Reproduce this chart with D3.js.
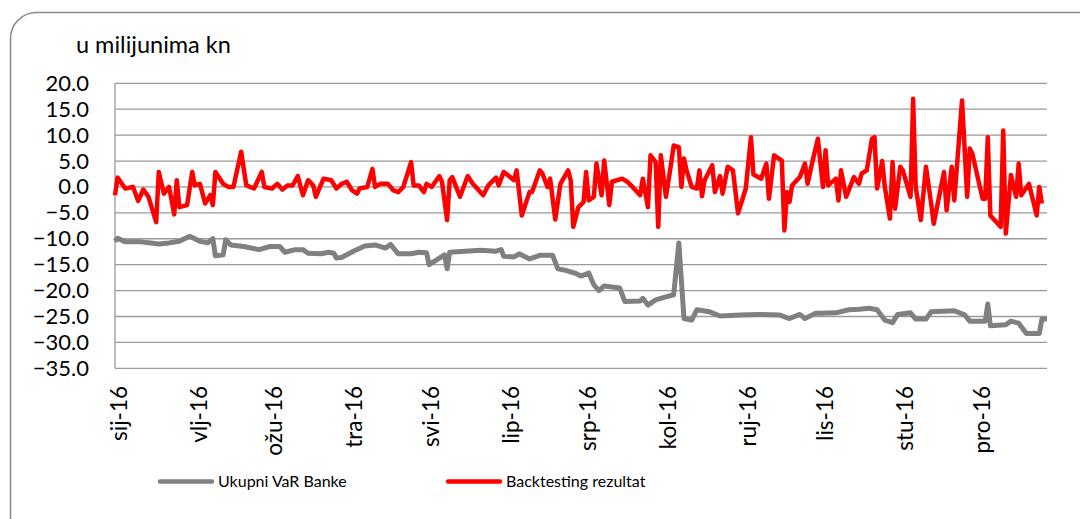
<!DOCTYPE html>
<html><head><meta charset="utf-8">
<script src="https://cdn.jsdelivr.net/npm/d3@7/dist/d3.min.js"></script>
<style>
html,body{margin:0;padding:0;background:#fff;}
text{font-family:Lato,"Open Sans",sans-serif;fill:#000;}
</style></head>
<body><svg id="c" width="1080" height="519"></svg>
<script>
const monthLabels = ["sij-16","vlj-16","ožu-16","tra-16","svi-16","lip-16","srp-16","kol-16","ruj-16","lis-16","stu-16","pro-16"];
const yTicks = [20,15,10,5,0,-5,-10,-15,-20,-25,-30,-35];
const seriesNames = ["Ukupni VaR Banke","Backtesting rezultat"];
// day offsets from 1 Jan 2016
const varDays = [0,1,4,10,14,17,21,25,29,33,36,38,39,42,43,45,50,56,60,64,66,70,73,75,80,83,85,86,88,90,93,97,101,105,107,110,115,118,121,122,128,129,130,136,142,148,150,151,155,157,161,165,170,172,175,179,181,184,186,188,190,196,198,204,205,207,210,214,217,219,221,224,226,231,235,243,250,258,262,266,268,272,274,280,285,289,293,296,299,302,304,309,311,315,317,326,330,332,338,339,340,346,348,351,354,359,360,362];
const varValues = [-10.5,-9.9,-10.6,-10.6,-10.8,-11,-10.8,-10.5,-9.5,-10.5,-10.8,-10,-13.3,-13.1,-10.2,-11.2,-11.5,-12.1,-11.5,-11.5,-12.6,-12.1,-12.1,-12.8,-12.9,-12.6,-12.8,-13.7,-13.6,-13.1,-12.3,-11.4,-11.2,-11.8,-11.1,-12.9,-12.9,-12.6,-12.7,-15.0,-13.1,-15.8,-12.6,-12.4,-12.2,-12.4,-12.1,-13.4,-13.5,-12.9,-13.9,-13.2,-13.2,-15.8,-16.1,-16.7,-17.2,-16.6,-18.9,-20,-19.1,-19.5,-22.1,-22,-21.5,-22.8,-21.8,-21.2,-20.8,-10.8,-25.4,-25.7,-23.7,-24.1,-24.9,-24.7,-24.6,-24.7,-25.4,-24.6,-25.4,-24.4,-24.4,-24.3,-23.7,-23.6,-23.4,-23.7,-25.7,-26.2,-24.6,-24.3,-25.5,-25.5,-24.1,-23.9,-24.7,-25.9,-25.9,-22.6,-26.8,-26.6,-25.9,-26.3,-28.3,-28.3,-25.5,-25.5];
const btDays = [0,1,4,7,9,11,13,16,17,19,21,23,24,25,28,30,31,33,35,37,38,39,42,44,46,49,51,54,57,58,61,63,65,67,69,71,73,75,77,78,81,84,86,88,90,92,94,95,98,100,101,103,106,108,110,112,115,116,118,120,121,123,126,127,129,130,131,134,137,139,143,145,148,149,151,153,155,156,158,161,162,165,166,168,169,171,173,176,177,178,180,182,183,184,186,187,189,190,192,193,197,199,201,204,205,207,208,210,211,212,214,216,217,219,220,221,222,224,226,227,228,229,232,233,235,236,238,240,242,245,247,248,251,253,254,256,259,260,261,262,263,266,268,269,271,273,275,276,277,280,281,282,284,287,289,290,292,294,295,296,298,299,301,302,303,305,306,309,310,311,313,315,317,318,322,323,325,326,329,331,332,333,337,338,339,340,344,345,346,348,350,351,352,355,358,359,360];
const btValues = [-1.6,1.8,-0.3,0,-2.7,-0.5,-1.9,-6.8,2.9,-1.3,0,-5.3,1.3,-3.9,-3.5,2.9,0.3,0.6,-3.2,-1.6,-3.5,2.9,0.6,0,0,6.8,0.3,-0.3,2.9,0,-0.3,0.6,-0.5,0.3,0.3,2.1,-1.6,1.3,0.3,-1.9,1.6,1.3,-0.3,0.6,1.0,-0.6,-1.3,-0.3,0,3.5,0,0.6,0.6,-0.6,-1.0,0,4.8,0.3,0.3,-1.0,0.6,0,2.1,1.0,-6.4,1.3,1.9,-1.9,2.1,0.6,-1.6,0.3,1.8,0.3,2.9,2.1,1.3,3.2,-5.5,-1.0,-1.0,3.2,2.6,0,1.6,-6.3,0.6,3.2,1.3,-7.7,-3.9,-2.9,2.9,-2.6,-1.9,4.5,-1.6,5.1,-3.5,1.0,1.6,1.0,0,-1.6,1.6,-3.9,6.1,4.8,-7.7,6.1,-1.9,4.5,8.0,7.7,0,5.5,3.2,0,-0.3,3.2,-1.8,1.3,4.2,-1.0,2.1,-1.3,3.9,3.2,-5.1,-0.3,9.6,2.4,1.6,4.5,-2.3,6.1,5.1,-8.4,-1.0,-2.9,0.3,1.9,4.5,0.6,5.1,9.3,0,7.1,0.3,1.6,-2.6,3.2,-1.9,1.9,0.6,2.6,3.2,9.3,9.6,-0.3,5.0,0,-6.1,4.8,-4.2,3.9,3.2,-1.9,17.0,0,-6.4,3.9,-3.2,-7.1,2.9,-4.5,3.9,-2.6,16.7,-1.9,7.4,6.4,-2.3,-2.3,9.6,-5.5,-7.7,10.9,-9.0,2.3,-1.9,4.5,-1.6,0.6,-5.5,0,-3.2];

const FONT = "Lato,'Open Sans',sans-serif";
const svg = d3.select("#c");
const start = new Date(Date.UTC(2016,0,1));
const dayToDate = d => d3.utcDay.offset(start, d);
const x = d3.scaleUtc().domain([start, new Date(Date.UTC(2016,11,28))]).range([115,1047]);
const y = d3.scaleLinear().domain([-35,20]).range([368.3,83.3]);

// frame
svg.append("rect").attr("x",10.5).attr("y",12.5).attr("width",1100).attr("height",530)
  .attr("rx",26).attr("fill","none").attr("stroke","#8c8c8c").attr("stroke-width",1.5);

svg.append("text").attr("x",76).attr("y",53).attr("font-size",23.5).text("u milijunima kn");

// gridlines
svg.append("g").selectAll("line").data(yTicks).join("line")
  .attr("x1",115).attr("x2",1047).attr("y1",d=>y(d)).attr("y2",d=>y(d))
  .attr("stroke","#9a9a9a").attr("stroke-width",1.3);
svg.append("line").attr("x1",115).attr("x2",115).attr("y1",y(20)).attr("y2",y(-35))
  .attr("stroke","#9a9a9a").attr("stroke-width",1.3);

// y axis labels
const ya = svg.append("g").attr("transform","translate(89,0)")
  .call(d3.axisLeft(y).tickValues(yTicks).tickSize(0).tickPadding(0).tickFormat(d3.format(".1f")));
ya.select(".domain").remove();
ya.selectAll("text").attr("font-size",22).attr("font-family",FONT).attr("fill","#000");

// x axis labels
const monthTicks = d3.utcMonth.range(start, new Date(Date.UTC(2016,11,2)));
const xa = svg.append("g").attr("transform","translate(0,368)")
  .call(d3.axisBottom(x).tickValues(monthTicks).tickSize(0).tickFormat((d,i)=>monthLabels[i]));
xa.select(".domain").remove();
xa.selectAll("text").attr("font-size",22.5).attr("font-family",FONT).attr("fill","#000")
  .attr("text-anchor","end").attr("dy","0.35em").attr("transform","translate(4,18) rotate(-90)").attr("y",0).attr("x",0);

// lines
const varData = varDays.map((d,i)=>({date:dayToDate(d), v:varValues[i]}));
const btData = btDays.map((d,i)=>({date:dayToDate(d), v:btValues[i]}));
const line = d3.line().x(d=>x(d.date)).y(d=>y(d.v));
svg.append("path").datum(varData).attr("d",line).attr("fill","none")
  .attr("stroke","#808080").attr("stroke-width",5).attr("stroke-linejoin","round");
svg.append("path").datum(btData).attr("d",line).attr("fill","none")
  .attr("stroke","#ff0000").attr("stroke-width",4.5).attr("stroke-linejoin","round");

// legend
const leg = [{x:160, c:"#808080"},{x:448, c:"#ff0000"}];
leg.forEach((l,i)=>{
  svg.append("line").attr("x1",l.x).attr("x2",l.x+52).attr("y1",481.5).attr("y2",481.5)
    .attr("stroke",l.c).attr("stroke-width",4.5).attr("stroke-linecap","round");
  svg.append("text").attr("x",l.x+58).attr("y",487).attr("font-size",16).text(seriesNames[i]);
});
</script></body></html>
